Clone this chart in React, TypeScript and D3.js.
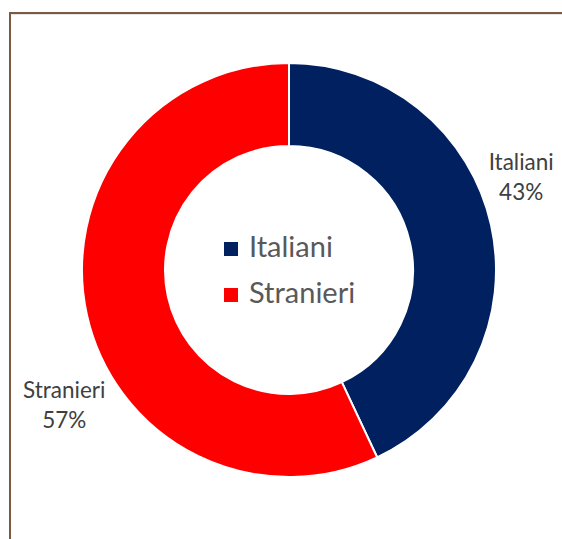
import * as d3 from 'd3';

const categories = ['Italiani', 'Stranieri'];
const values = [43, 57];
const colors = ['#002060', '#FF0000'];

const width = 562;
const height = 539;

export default function App() {
  const cx = 289;
  const cy = 270;
  const outer = 207;
  const inner = 124;

  const data = categories.map((c, i) => ({ name: c, value: values[i], color: colors[i] }));
  const total = d3.sum(values);

  const pie = d3.pie<{ name: string; value: number; color: string }>()
    .value(d => d.value)
    .sort(null);
  const arcs = pie(data);

  const arc = d3.arc<d3.PieArcDatum<{ name: string; value: number; color: string }>>()
    .innerRadius(inner)
    .outerRadius(outer);

  // Excel's best-fit labels sit a little before the slice's mid-angle
  const labelShift = [-0.16, -0.32];
  const labelRadius = [250, 262];
  const font = 'Lato, "Liberation Sans", sans-serif';

  return (
    <div style={{ position: 'fixed', left: 0, top: 0 }}>
      <svg width={width} height={height} style={{ display: 'block', background: '#fff' }}>
        {/* frame */}
        <line x1={9} x2={width} y1={14.5} y2={14.5} stroke="#e4e4e4" strokeWidth={1} />
        <line x1={10} x2={width} y1={13} y2={13} stroke="#7b5a43" strokeWidth={2} />
        <line x1={10} x2={10} y1={12} y2={height} stroke="#7b5a43" strokeWidth={2} />

        <g transform={`translate(${cx},${cy})`}>
          {arcs.map((a, i) => (
            <path key={i} d={arc(a) || ''} fill={a.data.color} stroke="#fff" strokeWidth={2} />
          ))}
          {arcs.map((a, i) => {
            const mid = (a.startAngle + a.endAngle) / 2 + labelShift[i];
            const x = Math.sin(mid) * labelRadius[i];
            const y = -Math.cos(mid) * labelRadius[i];
            const pct = d3.format('.0%')(a.data.value / total);
            return (
              <text key={i} x={x} y={y} textAnchor="middle" fontFamily={font} fontSize={22.5} fill="#404040">
                <tspan x={x} dy={-7}>{a.data.name}</tspan>
                <tspan x={x} dy={30}>{pct}</tspan>
              </text>
            );
          })}
        </g>

        {/* legend */}
        {data.map((d, i) => (
          <g key={i} transform={`translate(224,${242 + i * 46})`}>
            <rect x={0} y={0} width={14} height={14} fill={d.color} />
            <text x={25} y={15} fontFamily={font} fontSize={29} fill="#595959">{d.name}</text>
          </g>
        ))}
      </svg>
    </div>
  );
}
